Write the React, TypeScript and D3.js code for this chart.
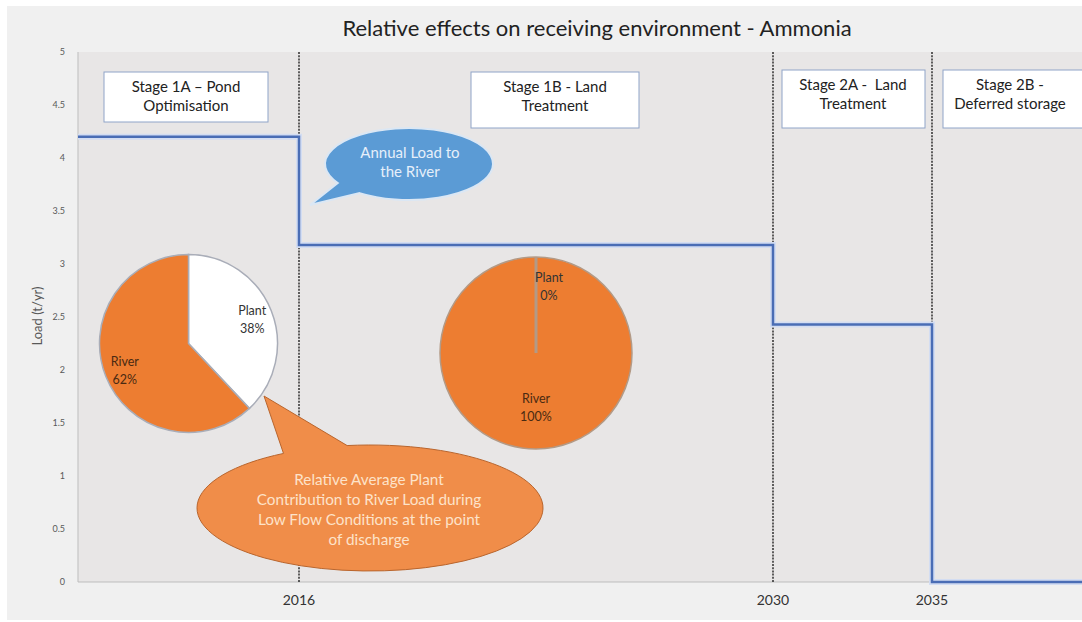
import React from "react";
import * as d3 from "d3";

// Annual ammonia load to the river, per treatment stage
const stageStartYear = [2012, 2016, 2030, 2035];
const stageEndYear = 2040;
const annualLoad = [4.2, 3.18, 2.43, 0];
const boundaryYears = [2016, 2030, 2035];
const yTicks = [0, 0.5, 1, 1.5, 2, 2.5, 3, 3.5, 4, 4.5, 5];

const stageTitles = [
  ["Stage 1A – Pond", "Optimisation"],
  ["Stage 1B - Land", "Treatment"],
  ["Stage 2A -  Land", "Treatment"],
  ["Stage 2B -", "Deferred storage"],
];

// Plant vs river share of the load under low flow
const shareCategories = ["Plant", "River"];
const shareStage1A = [38, 62];
const shareStage1B = [0, 100];

const titleText = "Relative effects on receiving environment - Ammonia";
const yAxisTitle = "Load (t/yr)";
const annualCalloutText = ["Annual Load to", "the River"];
const shareCalloutText = [
  "Relative Average Plant",
  "Contribution to River Load during",
  "Low Flow Conditions at the point",
  "of discharge",
];

const W = 1082;
const H = 622;
const plot = { left: 78, top: 52, bottom: 582, right: 1082 };
const FONT = "Lato, 'Open Sans', sans-serif";
const ORANGE = "#ed7d31";

const x = d3
  .scaleLinear()
  .domain([2012, 2016, 2030, 2035, 2040])
  .range([plot.left, 299, 773, 932, 1092]);
const y = d3.scaleLinear().domain([0, 5]).range([plot.bottom, plot.top]);

// Stage label boxes (pixel layout)
const stageBoxes = [
  { x0: 104, x1: 268, y0: 72, y1: 122, cx: 186 },
  { x0: 471, x1: 639, y0: 72, y1: 128, cx: 555 },
  { x0: 782, x1: 925, y0: 70, y1: 128, cx: 853 },
  { x0: 943, x1: 1090, y0: 70, y1: 128, cx: 1010 },
];

// Pie placements: centred on the stage period, at a load level
const pies = [
  { values: shareStage1A, stage: 0, level: 2.25, r: 89, labelR: 0.77, stroke: "#a9adb8" },
  { values: shareStage1B, stage: 1, level: 2.16, r: 96, labelR: 0.55, stroke: "#b39a86" },
];

function calloutPath(
  cx: number,
  cy: number,
  rx: number,
  ry: number,
  a1: number,
  a2: number,
  tip: [number, number],
  sweep: number
) {
  const p = (a: number) => [cx + rx * Math.cos((a * Math.PI) / 180), cy + ry * Math.sin((a * Math.PI) / 180)];
  const [ax, ay] = p(a1);
  const [bx, by] = p(a2);
  return `M${ax},${ay}L${tip[0]},${tip[1]}L${bx},${by}A${rx},${ry} 0 1 ${sweep} ${ax},${ay}Z`;
}

export default function App() {
  const steps: [number, number][] = stageStartYear.map((s, i) => [s, annualLoad[i]]);
  steps.push([stageEndYear, annualLoad[annualLoad.length - 1]]);
  const stepLine = d3
    .line<[number, number]>()
    .x((d) => x(d[0]))
    .y((d) => y(d[1]))
    .curve(d3.curveStepAfter)(steps) as string;

  const pieGen = d3
    .pie<number>()
    .sort(null)
    .value((d) => d);

  return (
    <svg
      width={W}
      height={H}
      style={{ position: "absolute", left: 0, top: 0, background: "#ffffff" }}
      fontFamily={FONT}
    >
      {/* chart panel */}
      <rect x={7} y={6} width={W - 7} height={614} fill="#f0f0f0" />
      <rect x={plot.left} y={plot.top} width={plot.right - plot.left} height={plot.bottom - plot.top} fill="#e8e6e6" />

      {/* title */}
      <text x={597} y={36} textAnchor="middle" fontSize={22} fill="#222">
        {titleText}
      </text>

      {/* axes */}
      <line x1={plot.left} x2={plot.left} y1={plot.top} y2={plot.bottom} stroke="#bdbdbd" />
      <line x1={plot.left} x2={plot.right} y1={plot.bottom} y2={plot.bottom} stroke="#bdbdbd" />
      {yTicks.map((t) => (
        <text key={t} x={65} y={y(t) + 3} textAnchor="end" fontSize={9} fill="#595959">
          {t}
        </text>
      ))}
      <text transform={`translate(42,${316}) rotate(-90)`} textAnchor="middle" fontSize={13} fill="#595959">
        {yAxisTitle}
      </text>

      {/* stage boundaries */}
      {boundaryYears.map((yr) => (
        <g key={yr}>
          <line
            x1={x(yr)}
            x2={x(yr)}
            y1={plot.top}
            y2={plot.bottom}
            stroke="#000"
            strokeWidth={1.2}
            strokeDasharray="2,1.2"
          />
          <text x={x(yr)} y={605} textAnchor="middle" fontSize={14} fill="#333">
            {yr}
          </text>
        </g>
      ))}

      {/* annual load step line */}
      <path d={stepLine} fill="none" stroke="#d3ddf2" strokeWidth={6} />
      <path d={stepLine} fill="none" stroke="#4a6db5" strokeWidth={2.5} />

      {/* stage labels */}
      {stageBoxes.map((b, i) => (
        <g key={i}>
          <rect
            x={b.x0}
            y={b.y0}
            width={b.x1 - b.x0}
            height={b.y1 - b.y0}
            fill="#ffffff"
            stroke="#8fa4c8"
            strokeWidth={1}
          />
          {stageTitles[i].map((line, j) => (
            <text
              key={j}
              x={b.cx}
              y={b.y0 + 20 + j * 19}
              textAnchor="middle"
              fontSize={15}
              fill="#222"
              style={{ whiteSpace: "pre" }}
            >
              {line}
            </text>
          ))}
        </g>
      ))}

      {/* plant / river share pies */}
      {pies.map((p, pi) => {
        const cx = (x(stageStartYear[p.stage]) + x(stageStartYear[p.stage + 1])) / 2;
        const cy = y(p.level);
        const arcs = pieGen(p.values);
        const arc = d3.arc<d3.PieArcDatum<number>>().innerRadius(0).outerRadius(p.r);
        const labelArc = d3
          .arc<d3.PieArcDatum<number>>()
          .innerRadius(p.r * p.labelR)
          .outerRadius(p.r * p.labelR);
        return (
          <g key={pi} transform={`translate(${cx},${cy})`}>
            {arcs.map((a, i) => (
              <path key={i} d={arc(a) as string} fill={i === 0 ? "#ffffff" : ORANGE} stroke={p.stroke} strokeWidth={1.5} />
            ))}
            {arcs
              .filter((a) => a.value === 0)
              .map((a, i) => {
                const ang = a.startAngle;
                return (
                  <line
                    key={"z" + i}
                    x1={0}
                    y1={0}
                    x2={p.r * Math.sin(ang)}
                    y2={-p.r * Math.cos(ang)}
                    stroke={p.stroke}
                    strokeWidth={3}
                  />
                );
              })}
            {arcs.map((a, i) => {
              const [lx, ly] = labelArc.centroid(a);
              const dx = a.value === 0 ? 13 : 0;
              const dy = a.value === 0 ? -15 : 0;
              return (
                <text key={i} textAnchor="middle" fontSize={12.5} fill={i === 0 ? "#333" : "#4a2a12"}>
                  <tspan x={lx + dx} y={ly + dy - 3}>
                    {shareCategories[i]}
                  </tspan>
                  <tspan x={lx + dx} y={ly + dy + 15}>
                    {a.value}%
                  </tspan>
                </text>
              );
            })}
          </g>
        );
      })}

      {/* annual load callout */}
      <path
        d={calloutPath(409, 164, 84, 36, 148, 126, [310, 205], 0)}
        fill="#5b9bd5"
        stroke="#dbe7f4"
        strokeWidth={2}
      />
      {annualCalloutText.map((t, i) => (
        <text key={i} x={410} y={158 + i * 19} textAnchor="middle" fontSize={15} fill="#e6effa">
          {t}
        </text>
      ))}

      {/* plant contribution callout */}
      <path
        d={calloutPath(370, 508, 173, 63, -120, -97.6, [264, 396], 1)}
        fill="#f08d49"
        stroke="#b9652d"
        strokeWidth={1}
      />
      {shareCalloutText.map((t, i) => (
        <text key={i} x={369} y={485 + i * 20} textAnchor="middle" fontSize={15.3} fill="#fde3ca">
          {t}
        </text>
      ))}
    </svg>
  );
}
